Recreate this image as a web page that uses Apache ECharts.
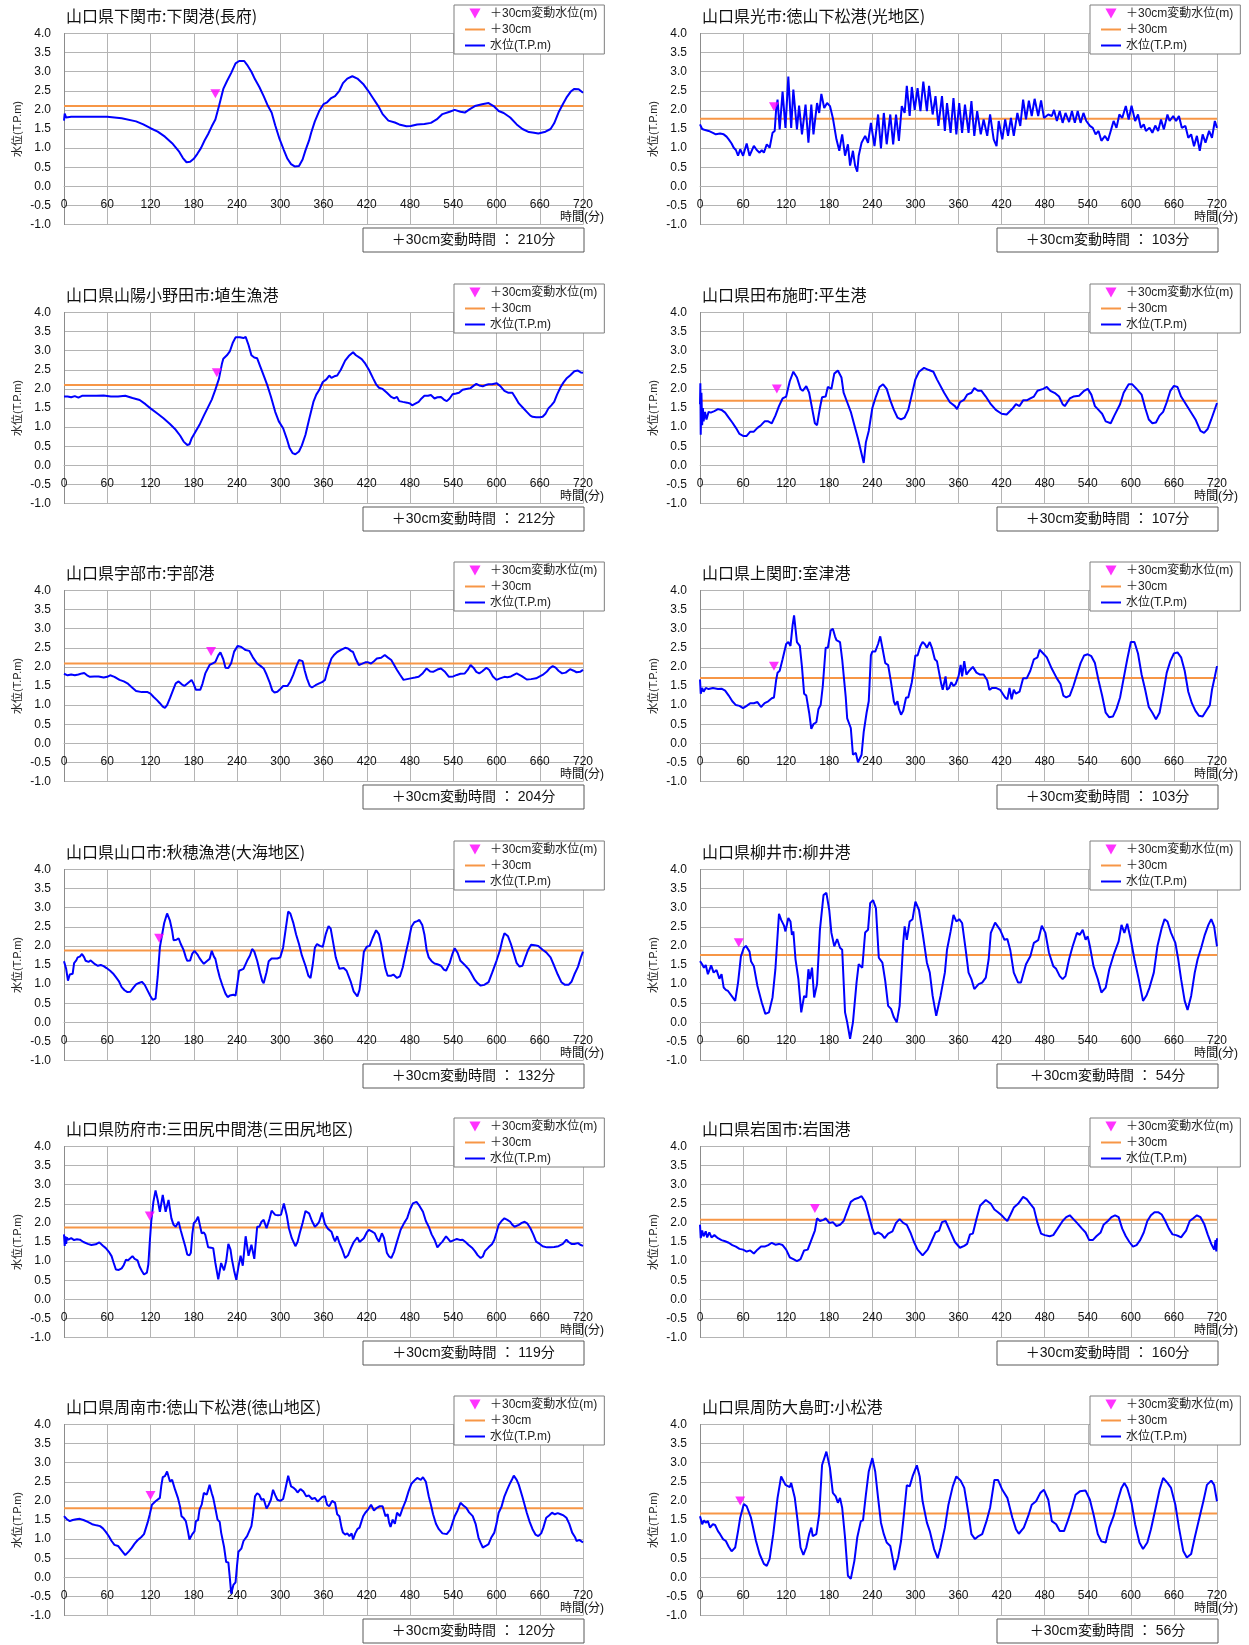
<!DOCTYPE html>
<html>
<head>
<meta charset="utf-8">
<script src="https://cdn.jsdelivr.net/npm/echarts@6/dist/echarts.min.js"></script>
<style>
html, body { margin: 0; padding: 0; background: #fff; }
#chart { width: 1249px; height: 1645px; }
</style>
</head>
<body>
<div id="chart"></div>
<script>
// 観測地点（左列→右列、上から順）
var stations = [
    '山口県下関市:下関港(長府)', '山口県光市:徳山下松港(光地区)',
    '山口県山陽小野田市:埴生漁港', '山口県田布施町:平生港',
    '山口県宇部市:宇部港', '山口県上関町:室津港',
    '山口県山口市:秋穂漁港(大海地区)', '山口県柳井市:柳井港',
    '山口県防府市:三田尻中間港(三田尻地区)', '山口県岩国市:岩国港',
    '山口県周南市:徳山下松港(徳山地区)', '山口県周防大島町:小松港'
];
// +30cm の水位 (T.P.m)
var thresholds = [2.10, 1.77, 2.10, 1.69, 2.09, 1.71, 1.88, 1.76, 1.88, 2.08, 1.81, 1.67];
// +30cm 変動時間 (分) と その時の水位
var arrivalMinutes = [210, 103, 212, 107, 204, 103, 132, 54, 119, 160, 120, 56];
var arrivalLevels = [2.42, 2.08, 2.42, 2.0, 2.4, 2.02, 2.2, 2.08, 2.18, 2.38, 2.14, 2.0];

// 水位 [分, T.P.m]
var levelShimonoseki = [[0,1.72],[1,1.9],[3,1.8],[10,1.82],[30,1.82],[60,1.82],[80,1.78],[100,1.7],[110,1.62],[120,1.52],[130,1.43],[140,1.3],[150,1.13],[160,0.9],[165,0.74],[170,0.63],[175,0.64],[180,0.72],[185,0.85],[190,1.0],[195,1.2],[200,1.37],[205,1.57],[210,1.75],[215,2.1],[221,2.55],[226,2.75],[232,2.97],[238,3.22],[243,3.28],[250,3.28],[254,3.18],[260,3.0],[265,2.8],[271,2.6],[277,2.36],[283,2.1],[288,1.93],[293,1.6],[299,1.24],[305,0.95],[310,0.72],[315,0.58],[320,0.52],[326,0.53],[331,0.7],[335,0.94],[340,1.2],[343,1.41],[348,1.7],[354,1.97],[360,2.15],[365,2.2],[370,2.3],[376,2.36],[382,2.5],[387,2.7],[393,2.82],[400,2.88],[407,2.82],[415,2.68],[422,2.5],[429,2.3],[436,2.1],[442,1.89],[450,1.72],[459,1.67],[465,1.62],[475,1.57],[481,1.58],[490,1.62],[500,1.63],[509,1.66],[517,1.75],[525,1.89],[535,1.95],[542,2.0],[550,1.95],[556,1.93],[563,2.02],[570,2.1],[580,2.15],[589,2.18],[596,2.1],[603,1.97],[610,1.92],[619,1.8],[628,1.62],[636,1.5],[645,1.42],[652,1.4],[658,1.38],[668,1.43],[675,1.5],[680,1.65],[686,1.93],[692,2.15],[697,2.32],[703,2.48],[708,2.55],[714,2.54],[720,2.45]];
var levelHikari = [[0,1.62],[3,1.5],[6,1.48],[12,1.45],[18,1.4],[22,1.36],[28,1.38],[33,1.36],[37,1.3],[40,1.23],[44,1.12],[47,1.01],[50,0.95],[53,0.8],[56,0.97],[60,0.8],[65,1.12],[69,0.8],[75,1.06],[79,0.95],[83,0.88],[86,0.95],[89,0.88],[93,1.1],[97,1.01],[101,1.4],[104,1.45],[106,2.0],[108,2.27],[111,1.49],[115,2.48],[119,1.53],[123,2.87],[127,1.53],[130,2.53],[135,1.49],[138,2.11],[142,1.36],[147,2.14],[151,1.14],[155,2.14],[158,1.36],[163,2.18],[166,1.92],[169,2.42],[173,2.05],[177,2.18],[181,2.1],[185,1.79],[190,1.23],[194,0.93],[198,1.36],[202,0.8],[206,1.1],[209,0.54],[213,0.93],[216,0.54],[219,0.38],[221,0.8],[225,1.14],[230,1.32],[234,1.14],[238,1.66],[243,1.05],[248,1.88],[252,0.99],[256,1.92],[260,1.1],[265,1.88],[269,1.1],[273,1.88],[277,1.19],[281,2.1],[285,1.92],[288,2.63],[292,1.84],[295,2.6],[299,2.0],[303,2.57],[307,1.97],[311,2.74],[316,1.97],[319,2.63],[324,1.88],[328,2.36],[332,1.58],[337,2.36],[341,1.45],[344,2.18],[349,1.4],[353,2.31],[357,1.36],[361,2.18],[365,1.4],[369,2.14],[374,1.4],[378,2.23],[382,1.32],[386,1.97],[391,1.36],[395,1.75],[400,1.32],[404,1.88],[409,1.23],[413,1.05],[416,1.71],[421,1.23],[425,1.75],[429,1.32],[433,1.79],[437,1.32],[442,1.92],[446,1.58],[450,2.27],[454,1.75],[458,2.24],[462,1.84],[466,2.29],[471,1.84],[475,2.25],[479,1.79],[485,1.88],[490,1.84],[493,2.0],[497,1.71],[501,1.97],[505,1.66],[509,1.92],[514,1.68],[518,1.97],[522,1.66],[526,1.97],[530,1.66],[534,1.92],[538,1.71],[543,1.58],[547,1.53],[551,1.36],[555,1.45],[559,1.19],[564,1.32],[568,1.19],[572,1.45],[576,1.71],[580,1.53],[584,1.88],[588,1.79],[593,2.1],[597,1.75],[601,2.11],[606,1.71],[610,1.88],[614,1.53],[618,1.62],[621,1.45],[626,1.53],[630,1.4],[634,1.59],[638,1.45],[642,1.75],[646,1.49],[651,1.88],[654,1.71],[659,1.84],[663,1.71],[667,1.84],[671,1.53],[676,1.58],[680,1.27],[684,1.36],[688,1.05],[692,1.32],[696,0.93],[700,1.36],[704,1.14],[709,1.45],[713,1.27],[717,1.71],[720,1.53]];
var levelHabu = [[0,1.8],[5,1.8],[10,1.78],[15,1.81],[20,1.77],[25,1.82],[35,1.82],[45,1.82],[55,1.83],[65,1.8],[75,1.8],[85,1.82],[95,1.76],[105,1.71],[113,1.6],[120,1.49],[130,1.35],[138,1.23],[147,1.08],[155,0.93],[161,0.78],[166,0.62],[171,0.53],[174,0.55],[177,0.7],[183,0.9],[188,1.06],[194,1.3],[199,1.49],[205,1.72],[210,1.98],[215,2.27],[219,2.65],[221,2.79],[226,2.88],[230,2.98],[234,3.2],[238,3.35],[244,3.35],[249,3.33],[252,3.36],[256,3.15],[260,2.88],[264,2.82],[268,2.8],[273,2.55],[278,2.3],[282,2.1],[287,1.8],[293,1.4],[298,1.15],[304,0.97],[309,0.7],[313,0.45],[317,0.32],[321,0.29],[326,0.36],[330,0.52],[335,0.8],[340,1.2],[346,1.66],[350,1.85],[354,1.97],[359,2.18],[364,2.25],[368,2.35],[371,2.29],[375,2.33],[379,2.35],[384,2.5],[390,2.74],[395,2.86],[401,2.96],[405,2.88],[409,2.83],[413,2.78],[418,2.66],[423,2.5],[429,2.27],[433,2.12],[437,2.03],[442,2.0],[448,1.9],[454,1.79],[458,1.75],[462,1.79],[465,1.68],[470,1.66],[476,1.64],[480,1.62],[483,1.57],[488,1.62],[492,1.66],[496,1.75],[500,1.82],[505,1.82],[509,1.84],[514,1.75],[518,1.78],[523,1.79],[527,1.72],[531,1.68],[535,1.75],[539,1.86],[544,1.88],[548,1.9],[553,1.98],[558,2.0],[564,2.02],[568,2.08],[572,2.13],[576,2.09],[581,2.07],[585,2.1],[589,2.12],[594,2.12],[600,2.15],[605,2.08],[611,1.95],[616,1.9],[622,1.9],[627,1.75],[631,1.62],[637,1.5],[642,1.4],[647,1.3],[650,1.27],[655,1.26],[660,1.26],[664,1.27],[668,1.35],[672,1.49],[676,1.57],[680,1.66],[684,1.85],[689,2.05],[693,2.17],[697,2.27],[702,2.35],[708,2.46],[713,2.48],[717,2.43],[720,2.42]];
var levelHirao = [[0,1.6],[0.5,2.15],[1,0.8],[2,1.9],[3,1.05],[4,1.5],[5,1.15],[7,1.4],[9,1.2],[12,1.4],[15,1.38],[20,1.42],[25,1.47],[30,1.45],[35,1.38],[40,1.25],[45,1.12],[50,0.98],[55,0.82],[60,0.77],[65,0.77],[70,0.88],[75,0.88],[80,0.98],[85,1.05],[90,1.15],[95,1.15],[100,1.1],[105,1.3],[110,1.55],[115,1.75],[120,1.8],[125,2.2],[130,2.45],[135,2.3],[140,2.0],[143,1.95],[148,2.07],[152,1.9],[155,1.6],[160,1.1],[163,1.05],[167,1.5],[170,1.78],[175,1.8],[178,2.05],[183,2.0],[187,2.4],[192,2.48],[197,2.3],[200,1.9],[205,1.65],[210,1.4],[215,1.05],[220,0.7],[225,0.3],[228,0.06],[231,0.6],[235,0.9],[240,1.5],[245,1.8],[250,2.05],[255,2.12],[260,2.0],[265,1.7],[270,1.45],[275,1.25],[280,1.2],[285,1.25],[290,1.45],[295,1.85],[300,2.25],[305,2.45],[312,2.55],[318,2.5],[325,2.45],[330,2.25],[340,1.9],[348,1.65],[355,1.55],[358,1.47],[362,1.65],[368,1.72],[372,1.85],[378,1.9],[382,2.02],[387,1.95],[392,1.95],[398,1.8],[405,1.6],[412,1.45],[420,1.35],[427,1.33],[435,1.48],[440,1.6],[445,1.55],[450,1.7],[455,1.7],[460,1.75],[465,1.8],[470,1.95],[478,2.0],[483,2.05],[488,1.95],[495,1.88],[500,1.8],[505,1.6],[508,1.55],[515,1.75],[520,1.8],[528,1.82],[535,1.95],[540,2.0],[545,1.85],[550,1.55],[555,1.45],[560,1.35],[565,1.15],[572,1.1],[577,1.3],[585,1.6],[590,1.9],[597,2.12],[602,2.12],[608,2.0],[615,1.85],[620,1.5],[625,1.2],[630,1.1],[635,1.12],[640,1.3],[645,1.4],[650,1.65],[655,1.95],[660,2.08],[665,2.05],[670,1.8],[680,1.5],[690,1.2],[697,0.9],[702,0.85],[707,0.95],[712,1.2],[720,1.63]];
var levelUbe = [[0,1.82],[5,1.78],[10,1.8],[15,1.78],[20,1.8],[25,1.83],[28,1.84],[32,1.78],[36,1.74],[42,1.75],[48,1.75],[55,1.72],[60,1.74],[64,1.78],[70,1.74],[77,1.66],[83,1.62],[88,1.57],[94,1.47],[100,1.37],[108,1.34],[116,1.34],[120,1.3],[124,1.22],[129,1.13],[133,1.05],[137,0.96],[140,0.93],[143,1.0],[147,1.18],[151,1.38],[155,1.57],[159,1.62],[163,1.55],[167,1.5],[172,1.58],[177,1.66],[180,1.55],[183,1.4],[189,1.4],[192,1.55],[196,1.83],[202,2.05],[207,2.1],[210,2.13],[214,2.3],[217,2.38],[221,2.2],[224,1.98],[228,1.97],[232,2.1],[236,2.4],[241,2.55],[246,2.52],[252,2.44],[257,2.42],[262,2.25],[268,2.09],[273,2.02],[277,1.96],[281,1.8],[285,1.61],[289,1.38],[292,1.33],[296,1.35],[299,1.4],[304,1.5],[310,1.5],[314,1.62],[318,1.79],[322,2.0],[326,2.18],[331,2.15],[334,1.9],[337,1.7],[341,1.5],[344,1.46],[349,1.52],[354,1.57],[358,1.6],[362,1.66],[366,1.95],[371,2.22],[375,2.32],[379,2.39],[385,2.45],[390,2.5],[394,2.48],[398,2.42],[401,2.39],[405,2.2],[409,2.05],[413,2.08],[418,2.12],[422,2.12],[426,2.09],[430,2.15],[434,2.22],[440,2.24],[445,2.31],[449,2.25],[454,2.18],[458,2.05],[462,1.92],[466,1.8],[471,1.66],[476,1.68],[481,1.7],[487,1.72],[492,1.74],[497,1.82],[503,1.96],[508,1.88],[512,1.87],[518,1.93],[523,1.96],[528,1.88],[534,1.74],[540,1.75],[545,1.79],[550,1.82],[556,1.83],[560,1.92],[564,2.05],[568,1.98],[572,1.87],[576,1.83],[580,1.88],[586,1.98],[590,1.92],[595,1.75],[600,1.66],[605,1.7],[611,1.74],[615,1.73],[620,1.75],[628,1.83],[635,1.76],[642,1.67],[648,1.68],[655,1.7],[660,1.75],[664,1.79],[670,1.88],[674,1.97],[678,2.02],[682,1.98],[686,1.9],[691,1.83],[696,1.85],[702,1.94],[707,1.9],[711,1.86],[716,1.87],[720,1.92]];
var levelMurotsu = [[0,1.67],[1,1.3],[3,1.45],[5,1.35],[8,1.45],[12,1.42],[18,1.45],[25,1.42],[30,1.43],[35,1.38],[40,1.25],[45,1.1],[50,1.0],[55,0.98],[60,0.92],[65,0.98],[70,1.05],[75,1.05],[80,1.08],[85,0.95],[90,1.05],[95,1.1],[100,1.18],[103,1.2],[106,1.65],[108,1.85],[111,1.9],[115,2.2],[120,2.6],[123,2.65],[126,2.55],[129,3.1],[131,3.35],[133,3.0],[135,2.65],[139,2.55],[142,2.0],[145,1.3],[148,1.25],[150,1.2],[152,0.8],[155,0.38],[158,0.5],[162,0.55],[165,0.9],[168,1.0],[171,1.5],[175,2.5],[178,2.5],[182,2.95],[185,3.0],[188,2.8],[190,2.7],[192,2.75],[195,2.65],[198,2.2],[200,1.8],[203,1.2],[205,0.65],[210,0.4],[213,-0.3],[215,-0.35],[217,-0.25],[220,-0.5],[222,-0.5],[225,-0.3],[228,0.3],[232,0.8],[235,1.1],[238,2.3],[240,2.4],[244,2.4],[248,2.6],[251,2.8],[254,2.5],[258,2.1],[262,2.05],[266,1.6],[270,1.1],[272,1.0],[275,1.1],[277,0.9],[280,0.75],[283,0.85],[287,1.2],[290,1.2],[295,1.6],[298,2.0],[300,2.3],[303,2.3],[307,2.55],[310,2.65],[313,2.6],[316,2.5],[320,2.65],[323,2.5],[327,2.2],[330,2.15],[333,1.85],[336,1.55],[338,1.4],[342,1.75],[344,1.4],[347,1.45],[350,1.6],[353,1.5],[356,1.55],[360,1.75],[363,2.05],[365,1.75],[368,2.15],[371,1.8],[375,1.9],[380,2.0],[385,1.85],[390,1.8],[395,1.8],[400,1.65],[403,1.4],[407,1.45],[412,1.45],[418,1.4],[425,1.2],[428,1.15],[431,1.45],[434,1.15],[437,1.4],[440,1.3],[445,1.35],[450,1.7],[455,1.7],[460,1.9],[465,2.2],[470,2.25],[473,2.45],[478,2.35],[483,2.25],[490,1.95],[497,1.7],[502,1.55],[506,1.25],[510,1.2],[515,1.25],[520,1.5],[525,1.8],[530,2.1],[535,2.3],[540,2.33],[545,2.28],[550,2.1],[555,1.65],[560,1.25],[565,0.8],[570,0.68],[575,0.7],[580,0.9],[585,1.2],[590,1.7],[595,2.2],[600,2.65],[605,2.65],[610,2.35],[615,1.8],[620,1.4],[625,0.95],[630,0.8],[635,0.63],[640,0.8],[645,1.3],[650,1.85],[655,2.15],[660,2.35],[665,2.38],[670,2.25],[675,1.9],[680,1.35],[685,1.05],[690,0.85],[695,0.72],[700,0.7],[705,0.85],[710,1.0],[713,1.4],[717,1.75],[720,2.02]];
var levelAio = [[0,1.6],[3,1.4],[5.5,1.09],[8,1.25],[10,1.2],[12,1.27],[14,1.55],[17,1.62],[19,1.7],[22,1.72],[25,1.79],[28,1.7],[30,1.61],[34,1.58],[37,1.62],[39,1.57],[43,1.52],[47,1.48],[51,1.5],[55,1.47],[59,1.42],[64,1.35],[68,1.28],[72,1.18],[76,1.08],[80,0.92],[84,0.84],[88,0.79],[92,0.8],[96,0.9],[100,0.99],[104,1.03],[108,1.06],[112,0.98],[116,0.83],[120,0.68],[123,0.59],[127,0.62],[130,1.2],[133,1.96],[135,2.18],[139,2.6],[143,2.85],[147,2.66],[150,2.4],[152,2.15],[156,2.16],[159,2.2],[162,2.05],[166,1.89],[169,1.7],[171,1.61],[175,1.62],[178,1.8],[181,1.87],[185,1.78],[188,1.68],[191,1.6],[194,1.53],[198,1.6],[202,1.66],[205,1.87],[208,1.72],[210,1.66],[213,1.4],[216,1.18],[220,0.95],[224,0.75],[227,0.66],[230,0.7],[232,0.75],[235,0.72],[238,0.7],[240,0.95],[243,1.35],[249,1.4],[254,1.61],[258,1.75],[261,1.92],[264,1.85],[268,1.61],[272,1.3],[275,1.08],[277,1.02],[281,1.31],[284,1.6],[288,1.67],[296,1.67],[300,1.7],[304,1.96],[308,2.5],[311,2.9],[314,2.85],[318,2.61],[322,2.3],[326,2.05],[330,1.75],[335,1.48],[339,1.22],[342,1.16],[345,1.5],[348,1.95],[351,2.05],[355,2.0],[359,1.98],[363,2.3],[367,2.52],[370,2.45],[373,2.13],[377,1.7],[382,1.4],[388,1.42],[392,1.35],[398,1.05],[402,0.8],[407,0.68],[410,0.85],[413,1.3],[416,1.85],[420,1.98],[424,2.0],[428,2.2],[433,2.41],[437,2.3],[440,2.05],[443,1.7],[446,1.4],[449,1.22],[454,1.22],[457,1.25],[462,1.16],[466,1.2],[470,1.44],[474,1.8],[478,2.13],[482,2.5],[486,2.62],[490,2.65],[493,2.68],[497,2.55],[500,2.3],[503,1.9],[506,1.7],[510,1.6],[514,1.54],[518,1.52],[523,1.48],[527,1.38],[530,1.35],[535,1.55],[539,1.8],[542,1.94],[546,1.82],[550,1.61],[556,1.5],[561,1.4],[565,1.28],[570,1.11],[574,1.02],[578,0.96],[583,0.98],[589,1.05],[594,1.3],[600,1.61],[605,1.9],[608,2.15],[611,2.33],[616,2.25],[620,2.05],[624,1.8],[628,1.55],[632,1.46],[636,1.48],[640,1.7],[644,1.9],[648,2.03],[653,2.02],[658,2.0],[664,1.9],[669,1.83],[675,1.7],[680,1.48],[685,1.25],[690,1.05],[695,0.98],[700,0.98],[704,1.06],[708,1.25],[713,1.45],[717,1.7],[720,1.85]];
var levelYanai = [[0,1.6],[3,1.52],[5.5,1.43],[8,1.5],[11,1.26],[15.5,1.49],[19,1.3],[23,1.37],[27,1.14],[30,1.26],[33,0.91],[36,0.85],[39,0.82],[44,0.69],[49,0.56],[53,1.04],[57,1.73],[61,1.95],[64,2.0],[66,1.99],[69,1.85],[71,1.6],[75,1.47],[80,0.95],[86,0.52],[91,0.22],[96,0.26],[101,0.65],[105,1.39],[110,2.84],[113,2.68],[117,2.53],[119,2.38],[123,2.73],[126,2.64],[128,2.29],[130,2.38],[133,1.65],[137,1.13],[141,0.26],[145,0.69],[148,0.65],[151,1.39],[153,1.13],[156,1.43],[159,0.65],[163,1.0],[167,2.42],[172,3.33],[176,3.39],[180,2.94],[183,2.34],[187,1.99],[191,2.18],[195,1.95],[198,1.9],[202,0.26],[205,0.0],[209,-0.43],[213,0.0],[218,1.04],[221,1.52],[226,1.43],[230,2.35],[234,2.42],[237,3.12],[241,3.2],[245,2.99],[249,1.69],[254,1.56],[258,1.08],[262,0.43],[266,0.35],[270,0.13],[274,0.0],[278,0.43],[283,2.08],[285,2.51],[288,2.16],[292,2.64],[296,2.7],[300,3.16],[305,2.94],[310,2.34],[316,1.56],[320,1.3],[324,0.69],[329,0.17],[335,0.69],[341,1.3],[344,1.9],[349,2.38],[353,2.81],[357,2.64],[361,2.7],[365,2.6],[370,1.9],[374,1.3],[378,1.13],[382,0.87],[388,1.0],[393,1.04],[398,1.17],[402,1.65],[405,2.34],[411,2.61],[418,2.42],[424,2.16],[428,2.18],[432,1.9],[437,1.3],[443,1.04],[447,1.04],[454,1.52],[460,1.73],[465,2.08],[471,2.15],[473,2.13],[476,2.53],[481,2.34],[486,1.82],[492,1.47],[496,1.4],[501,1.21],[505,1.13],[509,1.21],[514,1.65],[519,1.99],[525,2.34],[529,2.29],[533,2.42],[537,2.16],[540,2.25],[543,1.99],[548,1.47],[554,1.13],[559,0.78],[565,0.91],[570,1.39],[577,1.82],[583,2.12],[587,2.55],[591,2.34],[595,2.58],[600,2.16],[605,1.65],[611,1.13],[617,0.56],[622,0.71],[626,0.91],[632,1.3],[637,1.99],[643,2.47],[647,2.7],[651,2.64],[656,2.34],[662,2.08],[666,1.65],[670,1.13],[675,0.56],[679,0.32],[684,0.69],[689,1.3],[693,1.65],[698,1.95],[703,2.29],[708,2.55],[712,2.7],[716,2.51],[720,1.99]];
var levelMitajiri = [[0,1.7],[1,1.4],[2,1.65],[3,1.45],[4,1.62],[6,1.56],[10,1.6],[14,1.55],[18,1.57],[22,1.56],[27,1.5],[33,1.45],[38,1.42],[44,1.44],[49,1.49],[54,1.4],[58,1.34],[62,1.25],[66,1.13],[69,0.95],[72,0.78],[76,0.77],[80,0.81],[83,0.9],[86,1.04],[89,1.02],[91,1.06],[95,1.13],[98,1.06],[102,1.02],[105,0.85],[108,0.74],[111,0.65],[113,0.61],[115,0.7],[117,0.91],[119,1.5],[121,2.03],[124,2.55],[127,2.85],[130,2.6],[133,2.29],[137,2.73],[141,2.29],[145,2.6],[149,2.12],[152,1.95],[155,1.9],[159,2.03],[162,1.8],[165,1.6],[168,1.4],[171,1.17],[174,1.15],[176,1.22],[178,1.7],[180,1.99],[183,2.05],[186,2.16],[189,1.9],[191,1.73],[194,1.75],[196,1.69],[200,1.36],[204,1.35],[207,1.34],[210,0.95],[214,0.52],[218,0.95],[222,0.76],[225,1.0],[228,1.45],[231,1.3],[233,1.04],[236,0.75],[239,0.51],[242,0.85],[245,1.14],[248,0.88],[252,1.65],[256,1.14],[260,1.43],[264,1.06],[268,1.9],[271,1.9],[274,2.03],[277,2.08],[281,1.86],[285,2.1],[288,2.32],[293,2.21],[297,2.2],[301,2.21],[305,2.51],[309,2.2],[312,1.86],[316,1.6],[321,1.39],[324,1.5],[327,1.73],[331,2.0],[335,2.31],[340,2.25],[344,2.05],[348,1.9],[351,1.95],[354,2.03],[358,2.27],[362,1.97],[366,1.85],[371,1.77],[374,1.6],[376,1.52],[379,1.65],[382,1.48],[386,1.3],[390,1.08],[394,1.15],[398,1.34],[402,1.5],[407,1.62],[410,1.5],[412,1.48],[416,1.6],[420,1.75],[423,1.82],[427,1.78],[431,1.73],[434,1.6],[437,1.51],[441,1.73],[444,1.6],[448,1.21],[451,1.12],[454,1.08],[458,1.25],[462,1.51],[467,1.82],[472,2.0],[476,2.12],[480,2.35],[484,2.51],[489,2.55],[493,2.45],[498,2.29],[502,2.05],[506,1.9],[510,1.7],[514,1.56],[518,1.36],[522,1.45],[525,1.51],[530,1.65],[533,1.58],[536,1.51],[541,1.55],[545,1.58],[550,1.55],[553,1.56],[557,1.5],[561,1.43],[566,1.35],[570,1.26],[574,1.15],[578,1.08],[581,1.12],[584,1.26],[589,1.36],[594,1.45],[597,1.56],[600,1.75],[603,1.95],[607,2.05],[611,2.12],[615,2.08],[619,2.03],[622,1.95],[625,1.9],[631,1.95],[635,2.0],[639,2.03],[643,1.98],[647,1.86],[651,1.7],[655,1.51],[660,1.45],[664,1.39],[670,1.36],[675,1.36],[680,1.37],[686,1.39],[692,1.45],[697,1.56],[700,1.5],[704,1.45],[708,1.45],[713,1.47],[717,1.42],[720,1.4]];
var levelIwakuni = [[0,1.95],[1,1.6],[3,1.8],[5,1.65],[8,1.78],[10,1.62],[13,1.75],[16,1.62],[20,1.68],[25,1.6],[30,1.55],[35,1.52],[40,1.48],[45,1.42],[50,1.38],[55,1.32],[60,1.3],[65,1.25],[70,1.28],[75,1.2],[80,1.3],[85,1.38],[90,1.38],[95,1.42],[100,1.48],[105,1.43],[110,1.45],[115,1.42],[120,1.3],[125,1.1],[130,1.05],[135,1.0],[140,1.05],[145,1.28],[150,1.3],[155,1.55],[160,1.8],[163,2.12],[167,2.05],[172,2.08],[175,2.12],[180,2.0],[185,2.02],[190,1.92],[195,1.95],[200,2.05],[205,2.3],[210,2.55],[215,2.62],[220,2.65],[225,2.7],[230,2.55],[235,2.2],[240,1.85],[243,1.7],[248,1.75],[253,1.7],[257,1.6],[262,1.72],[268,1.78],[273,2.0],[278,2.1],[283,2.0],[288,1.95],[293,1.75],[298,1.5],[303,1.3],[310,1.15],[317,1.3],[322,1.5],[328,1.75],[333,1.8],[337,2.02],[342,2.05],[348,1.8],[355,1.5],[362,1.35],[368,1.4],[372,1.45],[376,1.7],[380,1.72],[385,2.1],[390,2.45],[398,2.6],[405,2.5],[410,2.35],[415,2.28],[420,2.2],[425,2.1],[428,2.05],[432,2.2],[437,2.4],[443,2.5],[450,2.68],[455,2.62],[460,2.5],[465,2.38],[470,2.0],[475,1.72],[480,1.68],[487,1.65],[492,1.68],[498,1.85],[505,2.05],[510,2.15],[515,2.2],[520,2.1],[525,2.0],[532,1.85],[537,1.75],[542,1.55],[547,1.55],[552,1.65],[558,1.75],[562,1.95],[568,2.05],[573,2.15],[578,2.2],[583,2.15],[588,1.85],[593,1.65],[598,1.5],[603,1.38],[608,1.42],[613,1.55],[618,1.75],[623,2.05],[628,2.2],[633,2.28],[638,2.28],[643,2.22],[648,2.05],[653,1.85],[658,1.7],[663,1.68],[667,1.65],[670,1.62],[673,1.7],[677,1.8],[682,2.05],[687,2.12],[692,2.2],[697,2.15],[702,1.98],[707,1.7],[712,1.45],[716,1.3],[718,1.55],[719,1.25],[720,1.6]];
var levelTokuyama = [[0,1.6],[4,1.52],[8,1.47],[12,1.5],[17,1.52],[22,1.53],[27,1.5],[33,1.45],[39,1.39],[45,1.36],[50,1.34],[54,1.28],[58,1.19],[62,1.08],[66,0.95],[70,0.85],[75,0.82],[80,0.7],[85,0.58],[90,0.68],[94,0.77],[98,0.88],[102,0.97],[107,1.05],[111,1.13],[116,1.43],[119,1.65],[122,1.9],[127,1.99],[133,2.08],[135,2.4],[137,2.62],[140,2.65],[143,2.77],[147,2.51],[150,2.55],[154,2.3],[158,2.08],[161,1.85],[163,1.6],[166,1.55],[169,1.47],[172,1.2],[174,0.99],[178,1.13],[181,1.2],[183,1.47],[186,1.5],[188,1.77],[191,1.9],[194,2.21],[198,2.16],[202,2.42],[205,2.2],[207,2.08],[210,1.8],[213,1.51],[216,1.45],[218,1.17],[222,0.8],[225,0.4],[228,0.39],[230,0.0],[232,-0.43],[235,-0.2],[238,-0.13],[240,0.3],[242,0.67],[246,0.75],[249,0.95],[254,1.08],[260,1.34],[262,1.6],[265,2.12],[268,2.2],[271,2.16],[274,2.03],[277,2.05],[281,1.8],[284,1.9],[287,2.03],[290,2.29],[293,2.15],[296,2.03],[300,2.0],[304,2.05],[307,2.3],[311,2.66],[315,2.38],[318,2.35],[321,2.3],[324,2.22],[328,2.31],[332,2.25],[336,2.12],[340,2.14],[344,2.05],[348,2.08],[352,1.98],[354,1.95],[358,2.1],[362,2.12],[365,1.9],[368,1.86],[372,2.0],[376,1.95],[379,1.65],[382,1.6],[385,1.3],[387,1.17],[390,1.12],[393,1.15],[396,1.08],[399,1.15],[401,0.99],[404,1.15],[407,1.26],[410,1.3],[412,1.34],[415,1.6],[418,1.69],[422,1.78],[426,1.9],[430,1.75],[434,1.82],[438,1.86],[442,1.86],[446,1.6],[449,1.65],[451,1.43],[453,1.32],[456,1.51],[459,1.4],[462,1.69],[466,1.6],[470,1.82],[474,2.0],[478,2.25],[482,2.45],[487,2.55],[490,2.6],[492,2.64],[495,2.55],[498,2.62],[502,2.5],[506,2.12],[509,1.9],[512,1.65],[516,1.4],[520,1.26],[525,1.15],[531,1.13],[536,1.25],[542,1.6],[546,1.75],[550,1.95],[554,1.88],[558,1.82],[562,1.7],[567,1.6],[571,1.4],[575,1.04],[578,0.9],[581,0.78],[585,0.82],[589,0.87],[593,1.05],[597,1.17],[600,1.4],[603,1.69],[607,1.85],[611,2.12],[615,2.3],[619,2.47],[622,2.58],[624,2.66],[628,2.55],[631,2.42],[636,2.1],[642,1.69],[646,1.45],[650,1.26],[654,1.12],[658,1.08],[662,1.15],[665,1.3],[669,1.56],[673,1.62],[677,1.69],[681,1.65],[685,1.68],[689,1.65],[693,1.62],[697,1.56],[701,1.4],[705,1.17],[709,1.05],[711,0.95],[715,0.98],[720,0.91]];
var levelKomatsu = [[0,1.6],[3,1.39],[5.5,1.49],[8,1.43],[11,1.47],[14,1.3],[18,1.39],[21,1.37],[25,1.21],[28,1.13],[32,1.0],[36,0.95],[40,0.8],[44,0.68],[49,0.78],[53,1.21],[56,1.56],[61,1.92],[65,1.86],[71,1.56],[78,0.95],[83,0.61],[89,0.35],[93,0.3],[97,0.48],[102,1.13],[108,2.08],[113,2.64],[119,2.42],[125,2.36],[127,2.47],[132,2.08],[136,1.47],[140,0.78],[144,0.59],[148,0.78],[152,1.13],[155,1.3],[157,1.08],[162,1.13],[166,1.65],[170,2.94],[176,3.29],[181,2.86],[185,2.21],[189,2.12],[192,1.95],[195,2.08],[198,1.82],[202,1.04],[206,0.04],[210,-0.04],[215,0.43],[219,1.04],[224,1.47],[227,1.49],[231,2.16],[235,2.77],[240,3.12],[244,2.77],[248,2.08],[252,1.43],[256,1.13],[260,0.91],[265,0.82],[269,0.43],[271,0.19],[276,0.52],[280,0.95],[284,1.65],[288,2.41],[292,2.38],[296,2.64],[302,2.93],[306,2.64],[310,1.99],[316,1.43],[320,1.21],[326,0.74],[331,0.5],[335,0.78],[341,1.3],[346,1.9],[352,2.38],[357,2.64],[363,2.53],[368,2.34],[374,1.65],[378,1.13],[383,1.0],[388,1.08],[393,1.13],[399,1.47],[404,1.82],[410,2.55],[415,2.55],[421,2.29],[428,2.08],[435,1.56],[440,1.26],[444,1.14],[451,1.3],[457,1.6],[462,1.9],[468,1.99],[474,2.21],[479,2.29],[485,2.03],[490,1.47],[496,1.39],[501,1.21],[507,1.21],[512,1.47],[518,1.82],[523,2.16],[529,2.25],[537,2.27],[543,2.03],[548,1.65],[554,1.13],[559,0.94],[565,0.91],[570,1.3],[576,1.6],[582,2.03],[587,2.34],[591,2.47],[595,2.34],[601,1.95],[606,1.39],[612,0.91],[617,0.74],[623,0.91],[628,1.26],[634,1.77],[640,2.29],[645,2.6],[651,2.47],[656,2.34],[662,1.9],[667,1.3],[673,0.69],[678,0.52],[684,0.61],[689,1.04],[695,1.52],[701,1.99],[706,2.42],[712,2.53],[716,2.42],[720,1.99]];

var levels = [levelShimonoseki, levelHikari, levelHabu, levelHirao, levelUbe, levelMurotsu,
              levelAio, levelYanai, levelMitajiri, levelIwakuni, levelTokuyama, levelKomatsu];

(function () {
    var FONT = "'Liberation Sans','Noto Sans CJK JP',sans-serif";
    var JP = "'Noto Sans CJK JP',sans-serif";
    var colLeft = [64, 700];
    var colWidth = [519, 517];
    var rowTop = [33.5, 312.5, 590.5, 869.5, 1146.5, 1424.5];
    var plotH = 191;
    var gridColor = '#b4b4b4';

    var names = ['＋30cm変動水位(m)', '＋30cm', '水位(T.P.m)'];
    var legendData = [
        { name: names[0], icon: 'path://M0,0L10,0L5,9Z' },
        { name: names[1] },
        { name: names[2] }
    ];
    var option = {
        animation: false,
        backgroundColor: '#fff',
        title: [], legend: [], grid: [], xAxis: [], yAxis: [], series: [], graphic: []
    };

    for (var i = 0; i < levels.length; i++) {
        var col = i % 2, row = Math.floor(i / 2);
        var L = colLeft[col], W = colWidth[col], T = rowTop[row];

        option.title.push({
            text: stations[i], left: L + 2, top: T - 26, padding: 0,
            textStyle: { fontSize: 16, fontWeight: 'normal', color: '#111', fontFamily: JP }
        });
        option.legend.push({
            data: legendData, orient: 'vertical', left: L + 390, top: T - 28.5,
            itemWidth: 20, itemHeight: 10, itemGap: 3, padding: [2, 7, 2, 10],
            symbolKeepAspect: true,
            backgroundColor: '#fff', borderColor: '#7f7f7f', borderWidth: 1,
            selectedMode: false,
            textStyle: { fontSize: 12, color: '#222', fontFamily: FONT, lineHeight: 13 }
        });
        option.grid.push({ left: L, top: T, width: W, height: plotH });
        option.xAxis.push({
            gridIndex: i, type: 'value', min: 0, max: 720, interval: 60,
            offset: -plotH / 5,
            axisLine: { onZero: false, lineStyle: { color: gridColor } },
            axisTick: { show: false },
            axisLabel: { margin: 12, fontSize: 12, color: '#111', fontFamily: FONT },
            splitLine: { show: true, lineStyle: { color: gridColor } }
        });
        option.yAxis.push({
            gridIndex: i, type: 'value', min: -1, max: 4, interval: 0.5,
            name: '水位(T.P.m)', nameLocation: 'middle', nameGap: 41,
            nameTextStyle: { fontSize: 11, color: '#222', fontFamily: FONT },
            axisLine: { show: true, lineStyle: { color: '#8c8c8c' } },
            axisTick: { show: false },
            axisLabel: { margin: 13, fontSize: 12, color: '#111', fontFamily: FONT,
                formatter: function (v) { return v.toFixed(1); } },
            splitLine: { show: true, lineStyle: { color: gridColor } }
        });
        option.series.push({
            name: names[0], type: 'scatter', xAxisIndex: i, yAxisIndex: i,
            symbol: 'triangle', symbolRotate: 180, symbolSize: [10, 9],
            itemStyle: { color: '#ff00ff' }, z: 4,
            data: [[arrivalMinutes[i], arrivalLevels[i]]]
        });
        option.series.push({
            name: names[1], type: 'line', xAxisIndex: i, yAxisIndex: i,
            symbol: 'none', lineStyle: { color: '#f79646', width: 2 },
            itemStyle: { color: '#f79646', opacity: 0 }, z: 2,
            data: [[0, thresholds[i]], [720, thresholds[i]]]
        });
        option.series.push({
            name: names[2], type: 'line', xAxisIndex: i, yAxisIndex: i,
            symbol: 'none', lineStyle: { color: '#0000ff', width: 2 },
            itemStyle: { color: '#0000ff', opacity: 0 }, z: 3,
            data: levels[i]
        });

        // +30cm変動時間 の枠
        var boxX = L + W - 220;
        option.graphic.push({
            type: 'rect', silent: true,
            shape: { x: boxX, y: T + 194.5, width: 221, height: 24 },
            style: { fill: '#fff', stroke: '#595959', lineWidth: 1 }
        });
        option.graphic.push({
            type: 'text', silent: true, x: boxX + 110.5, y: T + 206.5,
            style: { text: '＋30cm変動時間 ： ' + arrivalMinutes[i] + '分', font: '14px ' + FONT,
                fill: '#111', align: 'center', verticalAlign: 'middle',
                textAlign: 'center', textVerticalAlign: 'middle' }
        });
        option.graphic.push({
            type: 'text', silent: true, x: L + W + 21, y: T + 184.5,
            style: { text: '時間(分)', font: '12px ' + FONT, fill: '#111',
                align: 'right', verticalAlign: 'middle',
                textAlign: 'right', textVerticalAlign: 'middle' }
        });
    }

    var myChart = echarts.init(document.getElementById('chart'));
    myChart.setOption(option);
})();
</script>
</body>
</html>
